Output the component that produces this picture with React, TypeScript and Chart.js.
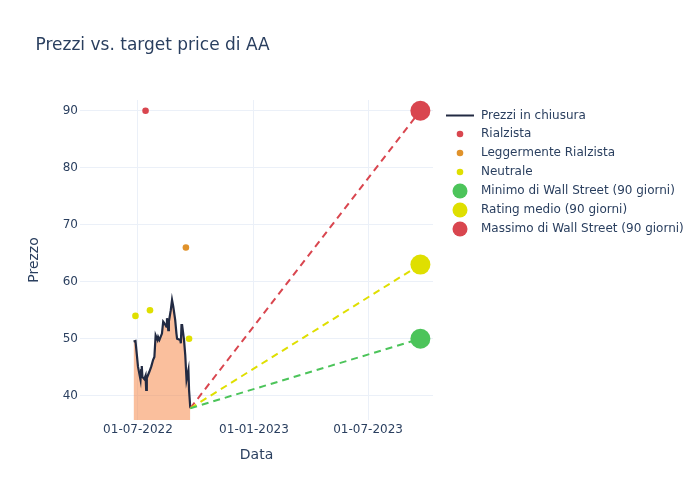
import { useEffect, useRef } from "react";
import { Chart, registerables } from "chart.js";

Chart.register(...registerables);

// ---------- data ----------
const priceDates = [
  "2022-06-24", "2022-06-27", "2022-06-29", "2022-07-01", "2022-07-05", "2022-07-06",
  "2022-07-07", "2022-07-08", "2022-07-11", "2022-07-13", "2022-07-14", "2022-07-15",
  "2022-07-19", "2022-07-22", "2022-07-25", "2022-07-27", "2022-07-29", "2022-08-01",
  "2022-08-02", "2022-08-04", "2022-08-08", "2022-08-10", "2022-08-12", "2022-08-15",
  "2022-08-16", "2022-08-18", "2022-08-19", "2022-08-22", "2022-08-24", "2022-08-26",
  "2022-08-29", "2022-08-31", "2022-09-01", "2022-09-06", "2022-09-07", "2022-09-08",
  "2022-09-09", "2022-09-12", "2022-09-14", "2022-09-16", "2022-09-19", "2022-09-20",
  "2022-09-22",
];
const priceValues = [
  49.5, 49.6, 47.4, 45.1, 42.8, 44.5,
  45.2, 43.3, 42.9, 43.5, 41.0, 43.1,
  44.2, 45.1, 46.3, 46.8, 50.6, 49.8,
  50.3, 49.8, 50.9, 53.0, 52.7, 52.1,
  53.6, 51.5, 53.0, 55.0, 56.8, 55.6,
  53.3, 50.9, 50.0, 49.8, 49.2, 52.4,
  52.4, 49.8, 47.1, 42.8, 44.5, 41.0,
  37.8,
];

const rialzistaDates = ["2022-07-13"];
const rialzistaValues = [90];
const leggermenteDates = ["2022-09-15"];
const leggermenteValues = [66];
const neutraleDates = ["2022-06-27", "2022-07-20", "2022-09-20"];
const neutraleValues = [54, 55, 50];

const targetDate = "2023-09-22";
const targetMin = 50;
const targetMean = 63;
const targetMax = 90;

const xTickDates = ["2022-07-01", "2023-01-01", "2023-07-01"];
const yTickValues = [40, 50, 60, 70, 80, 90];
const xRangeDates = ["2022-03-31", "2023-10-12"];
const yRange = [35.74, 91.88];

const legendLabels = [
  "Prezzi in chiusura",
  "Rialzista",
  "Leggermente Rialzista",
  "Neutrale",
  "Minimo di Wall Street (90 giorni)",
  "Rating medio (90 giorni)",
  "Massimo di Wall Street (90 giorni)",
];
const titleText = "Prezzi vs. target price di AA";

// ---------- helpers / styles ----------
const FONT = '"DejaVu Sans", sans-serif';
const TEXT = "#2a3f5f";
const GRID = "#ebf0f8";
const NAVY = "#222a42";
const FILL = "rgba(246,128,60,0.5)";
const RED = "#d9464f";
const ORANGE = "#e0922b";
const YELLOW = "#dfdf00";
const GREEN = "#4cc45a";

const toMs = (s: string) => {
  const [y, m, d] = s.split("-").map(Number);
  return Date.UTC(y, m - 1, d);
};
const fmt = (ms: number) => {
  const d = new Date(ms);
  const dd = String(d.getUTCDate()).padStart(2, "0");
  const mm = String(d.getUTCMonth() + 1).padStart(2, "0");
  return `${dd}-${mm}-${d.getUTCFullYear()}`;
};
const pts = (dates: string[], vals: number[]) =>
  dates.map((d, i) => ({ x: toMs(d), y: vals[i] }));

export default function App() {
  const ref = useRef<HTMLCanvasElement | null>(null);

  useEffect(() => {
    if (!ref.current) return;
    const lastX = toMs(priceDates[priceDates.length - 1]);
    const lastY = priceValues[priceValues.length - 1];
    const tX = toMs(targetDate);

    const dashed = (val: number, color: string) => ({
      type: "line" as const,
      data: [{ x: lastX, y: lastY }, { x: tX, y: val }],
      borderColor: color,
      borderWidth: 2,
      borderDash: [7, 5],
      pointRadius: 0,
      fill: false,
    });
    const marker = (dates: string[], vals: number[], color: string, r: number) => ({
      type: "line" as const,
      data: pts(dates, vals),
      showLine: false,
      pointRadius: r,
      pointHoverRadius: r,
      pointBackgroundColor: color,
      pointBorderWidth: 0,
      borderColor: color,
      backgroundColor: color,
    });

    const overlay = {
      id: "overlay",
      afterDraw(chart: any) {
        const ctx = chart.ctx;
        ctx.save();
        ctx.fillStyle = TEXT;
        ctx.font = `17px ${FONT}`;
        ctx.textBaseline = "alphabetic";
        ctx.textAlign = "left";
        ctx.fillText(titleText, 35.5, 50);

        const lx = 460;
        const rows = [115.5, 134, 153, 172, 191, 210, 229];
        const kinds: [string, string, number][] = [
          ["line", NAVY, 0],
          ["dot", RED, 3.3],
          ["dot", ORANGE, 3.3],
          ["dot", YELLOW, 3.3],
          ["dot", GREEN, 7.5],
          ["dot", YELLOW, 7.5],
          ["dot", RED, 7.5],
        ];
        ctx.font = `12px ${FONT}`;
        ctx.textBaseline = "middle";
        rows.forEach((y, i) => {
          const [k, c, r] = kinds[i];
          if (k === "line") {
            ctx.strokeStyle = c;
            ctx.lineWidth = 2;
            ctx.beginPath();
            ctx.moveTo(446, y);
            ctx.lineTo(474, y);
            ctx.stroke();
          } else {
            ctx.fillStyle = c;
            ctx.beginPath();
            ctx.arc(lx, y, r, 0, Math.PI * 2);
            ctx.fill();
          }
          ctx.fillStyle = TEXT;
          ctx.fillText(legendLabels[i], 481, y);
        });
        ctx.restore();
      },
    };

    const chart = new Chart(ref.current, {
      type: "line",
      data: {
        datasets: [
          marker([targetDate], [targetMin], GREEN, 10),
          marker([targetDate], [targetMean], YELLOW, 10),
          marker([targetDate], [targetMax], RED, 10),
          marker(rialzistaDates, rialzistaValues, RED, 3.3),
          marker(leggermenteDates, leggermenteValues, ORANGE, 3.3),
          marker(neutraleDates, neutraleValues, YELLOW, 3.3),
          dashed(targetMin, GREEN),
          dashed(targetMean, YELLOW),
          dashed(targetMax, RED),
          {
            type: "line",
            data: pts(priceDates, priceValues),
            borderColor: NAVY,
            borderWidth: 2.2,
            backgroundColor: FILL,
            fill: "start",
            pointRadius: 0,
            tension: 0,
          },
        ] as any,
      },
      options: {
        animation: false,
        responsive: false,
        events: [],
        layout: { padding: { left: 0, top: 100, right: 267, bottom: 0 }, autoPadding: false },
        plugins: {
          legend: { display: false },
          tooltip: { enabled: false },
          title: { display: false },
        },
        scales: {
          x: {
            type: "linear",
            min: toMs(xRangeDates[0]),
            max: toMs(xRangeDates[1]),
            afterBuildTicks: (s: any) => {
              s.ticks = xTickDates.map((d) => ({ value: toMs(d) }));
            },
            afterFit: (s: any) => {
              s.height = 80;
            },
            ticks: {
              callback: (v: any) => fmt(Number(v)),
              color: TEXT,
              font: { family: FONT, size: 12 },
              padding: 3,
              maxRotation: 0,
              autoSkip: false,
            },
            grid: { color: GRID, drawTicks: false, lineWidth: 1 },
            border: { display: false },
            title: {
              display: true,
              text: "Data",
              color: TEXT,
              font: { family: FONT, size: 14 },
              padding: { top: 0, bottom: 36 },
            },
          },
          y: {
            type: "linear",
            min: yRange[0],
            max: yRange[1],
            afterBuildTicks: (s: any) => {
              s.ticks = yTickValues.map((v) => ({ value: v }));
            },
            afterFit: (s: any) => {
              s.width = 80;
            },
            ticks: {
              color: TEXT,
              font: { family: FONT, size: 12 },
              padding: 2,
            },
            grid: { color: GRID, drawTicks: false, lineWidth: 1 },
            border: { display: false },
            title: {
              display: true,
              text: "Prezzo",
              color: TEXT,
              font: { family: FONT, size: 14 },
              padding: { top: 26, bottom: 0 },
            },
          },
        },
      } as any,
      plugins: [overlay],
    });
    return () => chart.destroy();
  }, []);

  return (
    <div style={{ position: "absolute", left: 0, top: 0, width: 700, height: 500, background: "#fff" }}>
      <canvas ref={ref} width={700} height={500} style={{ display: "block" }} />
    </div>
  );
}
